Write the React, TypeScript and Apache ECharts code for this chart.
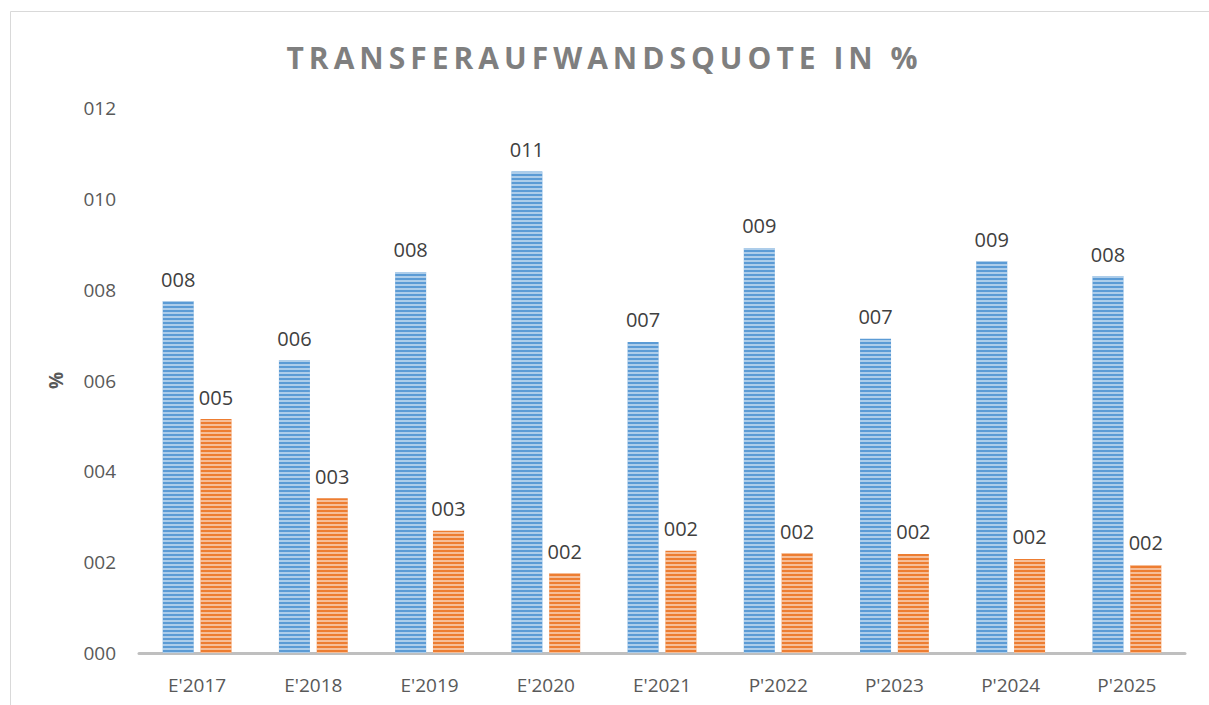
import React, { useEffect, useRef } from "react";
import * as echarts from "echarts";

const TITLE = "TRANSFERAUFWANDSQUOTE IN %";
const categories = ["E'2017", "E'2018", "E'2019", "E'2020", "E'2021", "P'2022", "P'2023", "P'2024", "P'2025"];
const seriesA = [7.75, 6.45, 8.39, 10.6, 6.85, 8.92, 6.92, 8.63, 8.3];
const seriesB = [5.15, 3.41, 2.69, 1.76, 2.25, 2.2, 2.18, 2.07, 1.94];
const yTicks = [0, 2, 4, 6, 8, 10, 12];

const pad3 = (v: number) => String(Math.round(v)).padStart(3, "0");
const FONT = "'Open Sans', sans-serif";

export default function App() {
  const ref = useRef<HTMLDivElement>(null);
  useEffect(() => {
    if (!ref.current) return;
    const chart = echarts.init(ref.current, undefined, { renderer: "svg" });
    const decal = {
      symbol: "rect",
      symbolSize: 1,
      dashArrayX: [1, 0],
      dashArrayY: [2, 2],
      color: "rgba(255,255,255,0.5)",
      rotation: 0,
    };
    const label = {
      show: true,
      position: "top" as const,
      distance: 12,
      color: "#404040",
      fontSize: 20,
      fontFamily: FONT,
      formatter: (p: any) => pad3(p.value),
    };
    chart.setOption({
      animation: false,
      backgroundColor: "#ffffff",
      title: {
        text: TITLE,
        left: "center",
        top: 37,
        textStyle: { color: "#7f7f7f", fontSize: 30, fontWeight: "bold", fontFamily: FONT },
      },
      graphic: [
        { type: "line", shape: { x1: 10.5, y1: 11.5, x2: 1209, y2: 11.5 }, style: { stroke: "#d9d9d9", lineWidth: 1 } },
        { type: "line", shape: { x1: 10.5, y1: 11.5, x2: 10.5, y2: 705 }, style: { stroke: "#d9d9d9", lineWidth: 1 } },
      ],
      grid: { left: 139, right: 24, top: 108, bottom: 52 },
      xAxis: {
        type: "category",
        data: categories,
        axisTick: { show: false },
        axisLine: { lineStyle: { color: "#bfbfbf", width: 3 } },
        axisLabel: { color: "#595959", fontSize: 19, fontFamily: FONT, margin: 22 },
      },
      yAxis: {
        type: "value",
        min: yTicks[0],
        max: yTicks[yTicks.length - 1],
        interval: 2,
        name: "%",
        nameLocation: "middle",
        nameGap: 74,
        nameRotate: 90,
        nameTextStyle: { color: "#595959", fontSize: 19, fontWeight: "bold", fontFamily: FONT },
        splitLine: { show: false },
        axisLine: { show: false },
        axisTick: { show: false },
        axisLabel: { color: "#595959", fontSize: 19, fontFamily: FONT, margin: 23, formatter: (v: number) => pad3(v) },
      },
      series: [
        {
          type: "bar",
          data: seriesA,
          barWidth: 31,
          barGap: "22%",
          itemStyle: { color: "#5b9bd5", decal },
          label,
        },
        {
          type: "bar",
          data: seriesB,
          barWidth: 31,
          itemStyle: { color: "#ed7d31", decal },
          label,
        },
      ],
    });
    const texts = ref.current.querySelectorAll("text");
    texts.forEach((t) => {
      if (t.textContent === TITLE) (t as SVGTextElement).style.letterSpacing = "5px";
    });
    return () => chart.dispose();
  }, []);
  return <div ref={ref} style={{ width: 1209, height: 705, position: "absolute", left: 0, top: 0 }} />;
}
